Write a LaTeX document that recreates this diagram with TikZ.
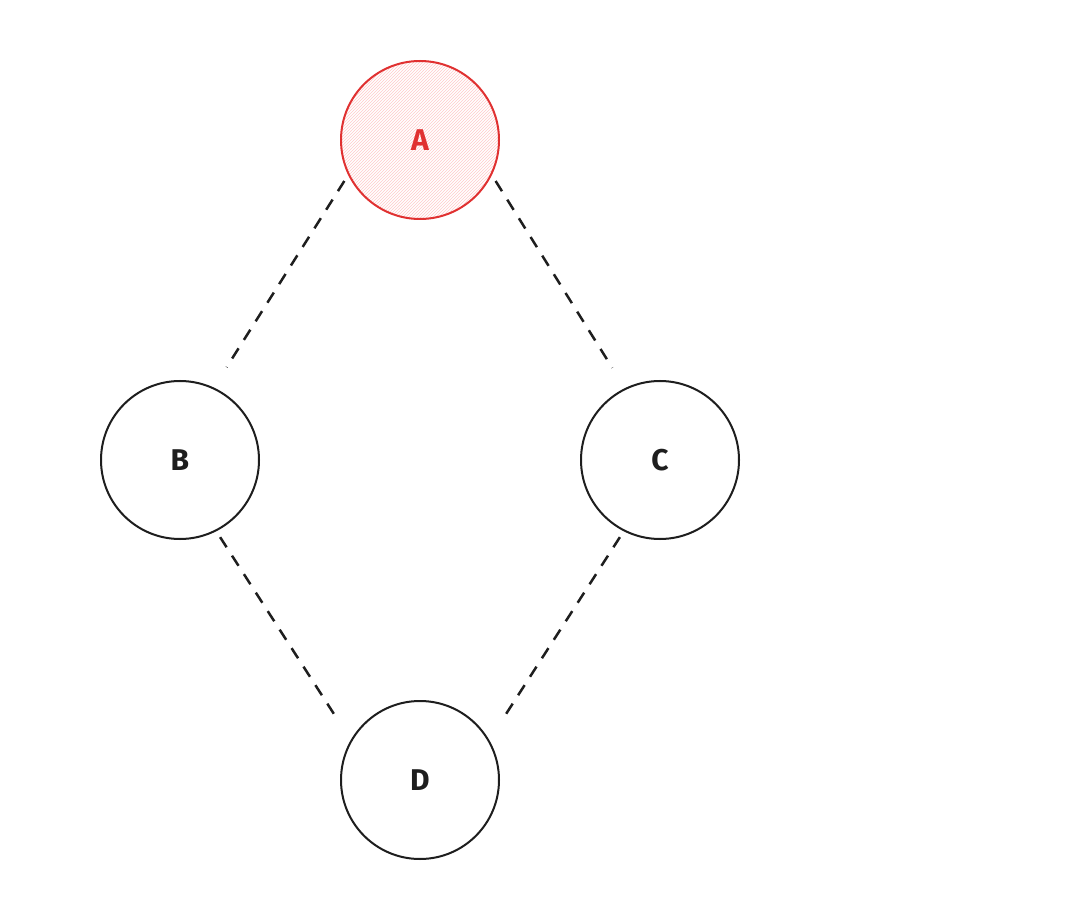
\documentclass[tikz,border=0pt]{standalone}
\usepackage{fontspec}
\setmainfont{Fira Sans}
\usetikzlibrary{patterns}
\definecolor{exred}{HTML}{E03131}
\definecolor{expink}{HTML}{FFC9C9}
\definecolor{exdark}{HTML}{1E1E1E}
\begin{document}
\begin{tikzpicture}[x=1pt,y=-1pt,
  vert/.style={circle,draw=exdark,line width=2pt,minimum size=158pt,inner sep=0pt,font=\fontsize{30}{30}\selectfont\bfseries,text=exdark},
  redvert/.style={vert,draw=exred,text=exred,pattern=north east lines,pattern color=expink},
  link/.style={draw=exdark,line width=2.5pt,dash pattern=on 12pt off 10pt,shorten <=7pt,shorten >=24pt}]
\useasboundingbox (0,0) rectangle (1080,920);
\node[redvert] (A) at (420,140) {A};
\node[vert] (B) at (180,460) {B};
\node[vert] (C) at (660,460) {C};
\node[vert] (D) at (420,780) {D};
\draw[link] (A.206) -- (B.65);
\draw[link] (A.334) -- (C.116);
\draw[link] (B.297) -- (D.150);
\draw[link] (C.243) -- (D.30);
\end{tikzpicture}
\end{document}
